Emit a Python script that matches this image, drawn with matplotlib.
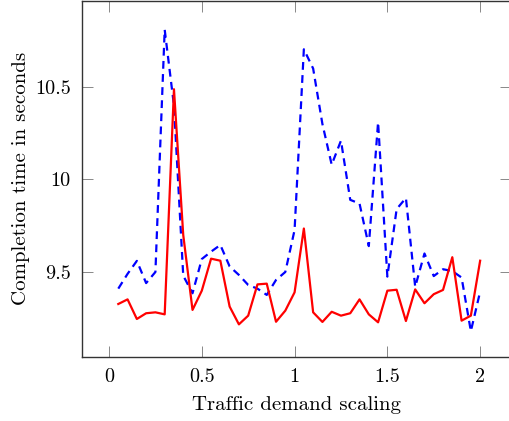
import matplotlib
matplotlib.use("Agg")
import matplotlib.pyplot as plt

plt.rcParams['font.family'] = ['cmr10', 'DejaVu Serif']
plt.rcParams['axes.formatter.use_mathtext'] = True

x = [0.05, 0.10, 0.15, 0.20, 0.25, 0.30, 0.35, 0.40, 0.45, 0.50,
     0.55, 0.60, 0.65, 0.70, 0.75, 0.80, 0.85, 0.90, 0.95, 1.00,
     1.05, 1.10, 1.15, 1.20, 1.25, 1.30, 1.35, 1.40, 1.45, 1.50,
     1.55, 1.60, 1.65, 1.70, 1.75, 1.80, 1.85, 1.90, 1.95, 2.00]

blue_dashed = [9.41, 9.49, 9.56, 9.44, 9.50, 10.81, 10.40, 9.48, 9.385, 9.57,
               9.61, 9.646, 9.53, 9.484, 9.43, 9.41, 9.376, 9.457, 9.50, 9.727,
               10.704, 10.60, 10.30, 10.08, 10.21, 9.89, 9.87, 9.64, 10.31, 9.475,
               9.84, 9.90, 9.42, 9.60, 9.478, 9.515, 9.505, 9.47, 9.18, 9.394]

red_solid = [9.327, 9.352, 9.246, 9.277, 9.282, 9.271, 10.488, 9.70, 9.295, 9.399,
             9.572, 9.561, 9.313, 9.217, 9.264, 9.433, 9.437, 9.231, 9.291, 9.39,
             9.735, 9.282, 9.23, 9.285, 9.264, 9.277, 9.352, 9.271, 9.228, 9.399,
             9.404, 9.235, 9.406, 9.331, 9.38, 9.403, 9.58, 9.237, 9.264, 9.561]

xticks = [0, 0.5, 1, 1.5, 2]
xticklabels = ['0', '0.5', '1', '1.5', '2']
yticks = [9.5, 10, 10.5]
yticklabels = ['9.5', '10', '10.5']

W, H = 510, 421
fig = plt.figure(figsize=(W / 100, H / 100), dpi=100)
left, right, bottom, top = 82 / W, 511.5 / W, 1 - 357 / H, 1 - 0.5 / H
ax = fig.add_axes([left, bottom, right - left, top - bottom])

ax.plot(x, blue_dashed, color='#0000ff', lw=1.6, linestyle=(0, (3.5, 2.4)))
ax.plot(x, red_solid, color='#ff0000', lw=1.6)

ax.set_xlim(-0.1456, 2.169)
ax.set_ylim(9.0405, 10.9676)

ax.set_xticks(xticks)
ax.set_xticklabels(xticklabels)
ax.set_yticks(yticks)
ax.set_yticklabels(yticklabels)

ax.tick_params(direction='in', length=8, width=0.7, color='#888888',
               top=True, right=True, labelsize=14.5, pad=8)
for s in ax.spines.values():
    s.set_color('#333333')
    s.set_linewidth(1.0)

ax.set_xlabel('Traffic demand scaling', fontsize=15, labelpad=7)
ax.set_ylabel('Completion time in seconds', fontsize=15, labelpad=4)

fig.savefig('out.png', dpi=100)
